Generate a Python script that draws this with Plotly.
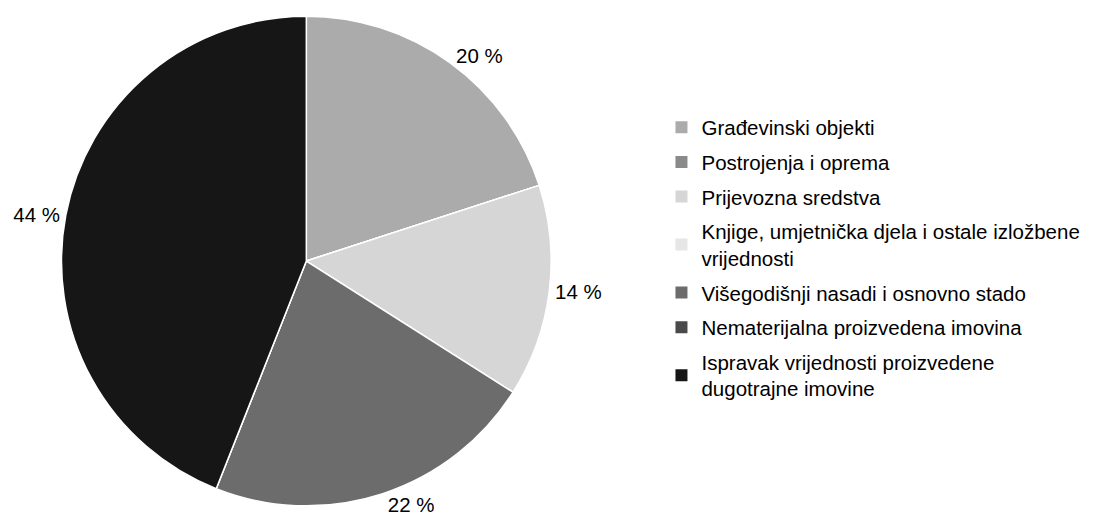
import plotly.graph_objects as go

# Categories (legend order) and share of each in percent
labels = [
    'Građevinski objekti',
    'Postrojenja i oprema',
    'Prijevozna sredstva',
    'Knjige, umjetnička djela i ostale izložbene<br>vrijednosti',
    'Višegodišnji nasadi i osnovno stado',
    'Nematerijalna proizvedena imovina',
    'Ispravak vrijednosti proizvedene<br>dugotrajne imovine',
]
values = [20, 0, 14, 0, 22, 0, 44]

colors = ['#ababab', '#8a8a8a', '#d6d6d6', '#e6e6e6', '#6c6c6c', '#4a4a4a', '#161616']

# only label the slices that are visible
slice_text = [f'{v} %' if v else '' for v in values]

font_family = 'Liberation Sans, Arial, sans-serif'

fig = go.Figure()
fig.add_trace(go.Pie(
    labels=labels,
    values=values,
    text=slice_text,
    textinfo='text',
    textposition='outside',
    hoverinfo='label+percent',
    sort=False,
    direction='clockwise',
    rotation=0,
    showlegend=False,
    marker=dict(colors=colors, line=dict(color='white', width=1.5)),
    outsidetextfont=dict(color='black', size=20.5, family=font_family),
    domain=dict(x=[(288 - 248) / 1096, (288 + 248) / 1096], y=[(514 - 503) / 514, (514 - 7) / 514]),
))

# legend entries as separate groups so that the rows get some extra spacing
for i, (lab, col) in enumerate(zip(labels, colors)):
    fig.add_trace(go.Scatter(
        x=[None], y=[None], mode='markers', name=lab,
        marker=dict(symbol='square', size=13, color=col),
        legendgroup=f'g{i}', showlegend=True, hoverinfo='skip',
    ))

fig.update_xaxes(visible=False)
fig.update_yaxes(visible=False)

fig.update_layout(
    width=1096, height=514,
    margin=dict(l=0, r=0, t=0, b=0),
    paper_bgcolor='white',
    plot_bgcolor='white',
    font=dict(family=font_family, size=21, color='black'),
    legend=dict(x=0.591, y=0.805, xanchor='left', yanchor='top',
                font=dict(size=20.5, color='black'), tracegroupgap=5,
                itemsizing='constant', itemwidth=30),
)

fig.write_html("out.html")
